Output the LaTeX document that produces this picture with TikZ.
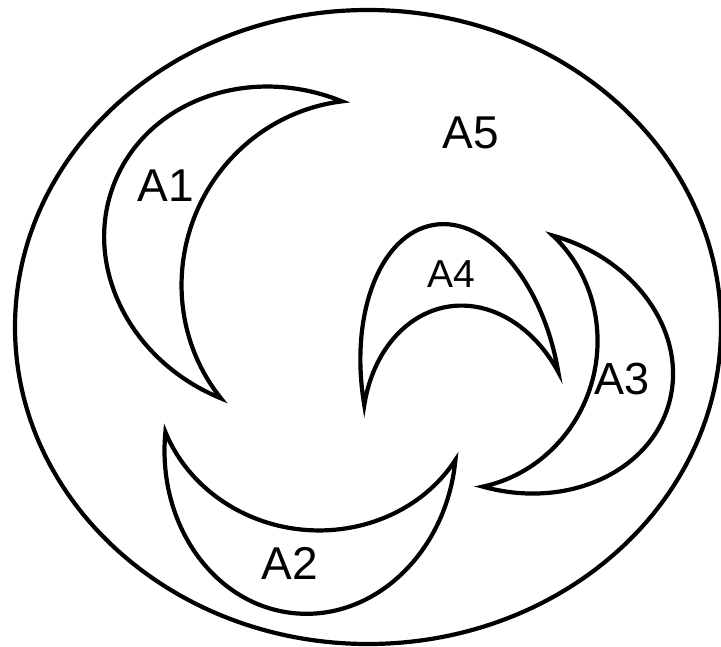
\documentclass[tikz,border=0pt]{standalone}
\usepackage{fontspec}
\setmainfont{Liberation Sans}

\begin{document}
\begin{tikzpicture}[x=1pt, y=-1pt, line width=4.2pt, line join=miter, miter limit=20,
  lab/.style={anchor=center, inner sep=0pt, font=\fontsize{46}{55}\selectfont},
  labsmall/.style={lab, font=\fontsize{39}{47}\selectfont}]

  %% ════ 外圈 A5 ════
  \draw (368,327) ellipse [x radius=353, y radius=317];

  %% ════ 月牙：外弧是半椭圆，内弧是圆心外移的椭圆弧（局部坐标，弦沿 y）════
  % A1
  \begin{scope}[shift={(281.5,249.8)}, rotate=-22.17]
    \draw (-180,0) arc[start angle=180, end angle=90, x radius=180, y radius=160.4]
          arc[start angle=118.52, end angle=241.48, x radius=178, y radius=182.5]
          arc[start angle=270, end angle=180, x radius=180, y radius=160.4] -- cycle;
  \end{scope}
  % A2
  \begin{scope}[shift={(310.4,446)}, rotate=84.49]
    \draw (-168,0) arc[start angle=180, end angle=90, x radius=168, y radius=145.7]
          arc[start angle=115.86, end angle=244.14, x radius=149, y radius=161.9]
          arc[start angle=270, end angle=180, x radius=168, y radius=145.7] -- cycle;
  \end{scope}
  % A3
  \begin{scope}[shift={(517.8,361.1)}, rotate=164.42]
    \draw (-157,0) arc[start angle=180, end angle=90, x radius=157, y radius=130.3]
          arc[start angle=116.49, end angle=243.51, x radius=139, y radius=145.6]
          arc[start angle=270, end angle=180, x radius=157, y radius=130.3] -- cycle;
  \end{scope}
  % A4
  \begin{scope}[shift={(461.3,388.6)}, rotate=-80.35]
    \draw (-166,0) arc[start angle=180, end angle=90, x radius=166, y radius=98.4]
          arc[start angle=113.49, end angle=246.51, x radius=138, y radius=107.3]
          arc[start angle=270, end angle=180, x radius=166, y radius=98.4] -- cycle;
  \end{scope}

  %% ════ 标签 ════
  \node[lab] (a1) at (166,186) {A1};   % box(140,169,52,34)
  \node[lab] (a2) at (290,563) {A2};   % box(262,547,55,33)
  \node[lab, font=\fontsize{45}{54}\selectfont] (a3) at (622,379) {A3};   % box(595,363,55,32)
  \node[labsmall] (a4) at (451,274) {A4};   % box(427,260,48,28)
  \node[lab] (a5) at (471,133) {A5};   % box(442,116,58,34)

  % 钉死画布
  \pgfresetboundingbox
  \path[use as bounding box] (0,0) rectangle (721,647);
\end{tikzpicture}
\end{document}
